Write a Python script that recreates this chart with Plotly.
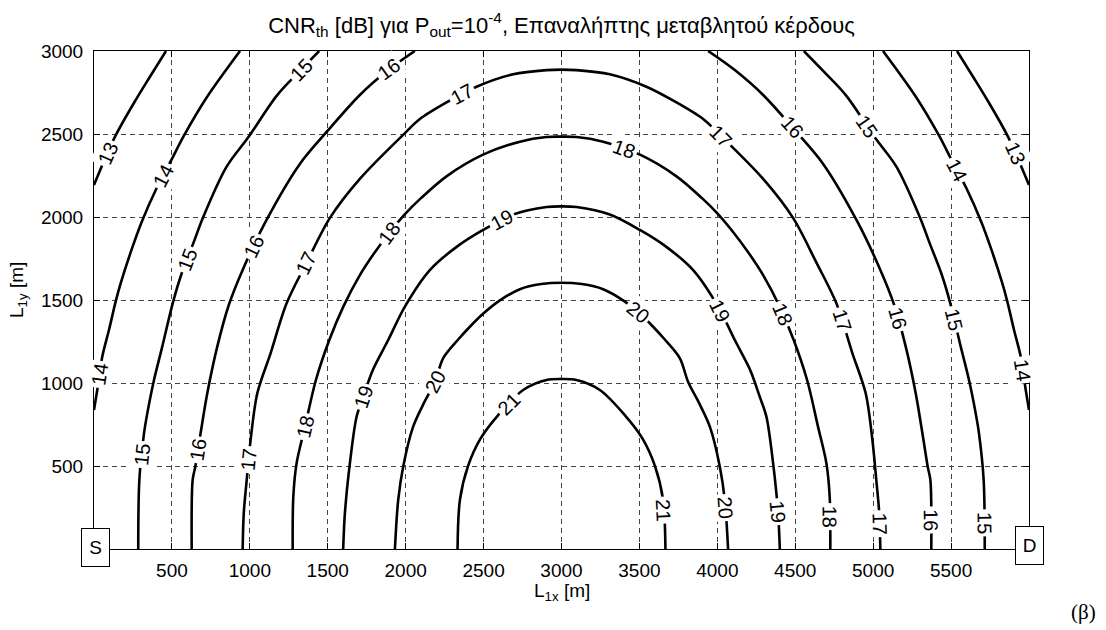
import math
import plotly.graph_objects as go

X_MAX, Y_MAX = 6000, 3000

# Contour levels (dB)
levels = [13, 14, 15, 16, 17, 18, 19, 20, 21]

# Left half (x <= 3000) of every contour line.
# The field is symmetric about x = 3000, the right half is its mirror image.
c13_x = [0, 135, 274, 359, 462]
c13_y = [2193, 2484, 2715, 2845, 3000]
c14_x = [0, 21, 53, 96, 139, 171, 240, 306, 400, 500, 577, 723, 937]
c14_y = [837, 958, 1158, 1319, 1490, 1600, 1800, 1970, 2170, 2350, 2490, 2720, 3000]
c15_x = [284, 291, 321, 342, 385, 438, 505, 563, 637, 701, 851, 990, 1172, 1321, 1445]
c15_y = [0, 416, 697, 817, 1018, 1219, 1480, 1661, 1841, 2000, 2303, 2480, 2730, 2880, 3000]
c16_x = [627, 633, 650, 684, 727, 791, 865, 958, 1103, 1321, 1500, 1706, 1888, 2059]
c16_y = [0, 416, 496, 697, 938, 1219, 1470, 1690, 1975, 2320, 2520, 2735, 2885, 3000]
c17_x = [954, 961, 980, 1005, 1048, 1133, 1236, 1364, 1514, 1706, 2000, 2091, 2262, 2455, 2690, 2904, 3000]
c17_y = [0, 215, 416, 657, 938, 1179, 1480, 1725, 1995, 2230, 2510, 2590, 2690, 2785, 2860, 2885, 2888]
c18_x = [1275, 1279, 1300, 1354, 1424, 1510, 1600, 1706, 1800, 1899, 2000, 2100, 2262, 2493, 2733, 2904, 3000]
c18_y = [0, 315, 516, 737, 1018, 1259, 1460, 1650, 1785, 1910, 2022, 2115, 2245, 2374, 2454, 2482, 2484]
c19_x = [1599, 1610, 1642, 1685, 1728, 1790, 1888, 1995, 2155, 2327, 2497, 2690, 2904, 3000]
c19_y = [0, 215, 516, 797, 918, 1080, 1259, 1460, 1680, 1820, 1922, 2015, 2060, 2064]
c20_x = [1931, 1952, 1984, 2048, 2112, 2188, 2241, 2340, 2412, 2500, 2600, 2733, 2870, 3000]
c20_y = [0, 295, 496, 737, 870, 1008, 1150, 1265, 1339, 1420, 1495, 1565, 1596, 1604]
c21_x = [2333, 2348, 2401, 2480, 2594, 2754, 2904, 3000]
c21_y = [0, 295, 502, 665, 807, 958, 1018, 1024]

half_curves = {
    13: (c13_x, c13_y), 14: (c14_x, c14_y), 15: (c15_x, c15_y),
    16: (c16_x, c16_y), 17: (c17_x, c17_y), 18: (c18_x, c18_y),
    19: (c19_x, c19_y), 20: (c20_x, c20_y), 21: (c21_x, c21_y),
}

# Inline contour labels: level and approximate position
lab_level = [13, 14, 14, 15, 16, 17, 18, 19, 20, 21, 15, 16, 17, 18, 15, 16, 17, 19,
             17, 16, 15, 14, 13, 18, 20, 19, 18, 17, 16, 15, 14, 21, 20, 19, 18, 17, 16, 15]
lab_x = [81, 434, 43, 332, 674, 994, 1354, 1728, 2188, 2669, 605, 1022, 1364, 1899, 1321, 1888, 2359, 2615,
         4016, 4486, 4946, 5534, 5887, 3396, 3492, 3984, 4401, 4807, 5149, 5512, 5940, 3620, 4016, 4390, 4700, 5042, 5363, 5705]
lab_y = [2384, 2253, 1048, 566, 596, 536, 737, 918, 1008, 867, 1741, 1821, 1721, 1902, 2896, 2896, 2745, 1982,
         2484, 2544, 2534, 2283, 2374, 2394, 1430, 1420, 1410, 1380, 1390, 1380, 1078, 235, 245, 225, 195, 155, 175, 155]

x_ticks = [500, 1000, 1500, 2000, 2500, 3000, 3500, 4000, 4500, 5000, 5500]
y_ticks = [500, 1000, 1500, 2000, 2500, 3000]

# ---- geometry of the figure ----
W, H = 1106, 630
PL, PR, PT, PB = 94, 1029, 51, 549
sx = (PR - PL) / X_MAX
sy = (PB - PT) / Y_MAX
FONT = "Liberation Sans, Arial, Helvetica, sans-serif"


def pieces(lv):
    xs, ys = half_curves[lv]
    mx = [X_MAX - x for x in reversed(xs)]
    my = list(reversed(ys))
    if ys[-1] >= Y_MAX:  # leaves through the top edge: two separate branches
        return [(list(xs), list(ys)), (mx, my)]
    if xs[-1] == X_MAX / 2:
        mx, my = mx[1:], my[1:]
    return [(list(xs) + mx, list(ys) + my)]


fig = go.Figure()
for lv in levels:
    for xs, ys in pieces(lv):
        fig.add_trace(go.Scatter(
            x=xs, y=ys, mode="lines",
            line=dict(color="black", width=2.6, shape="spline", smoothing=0.9),
            hoverinfo="skip", showlegend=False))


def snap(lv, x, y):
    best = None
    px, py = x * sx, y * sy
    for xs, ys in pieces(lv):
        for i in range(len(xs) - 1):
            ax, ay = xs[i] * sx, ys[i] * sy
            bx, by = xs[i + 1] * sx, ys[i + 1] * sy
            dx, dy = bx - ax, by - ay
            L2 = dx * dx + dy * dy
            if L2 == 0:
                continue
            t = max(0.0, min(1.0, ((px - ax) * dx + (py - ay) * dy) / L2))
            qx, qy = ax + t * dx, ay + t * dy
            d = (px - qx) ** 2 + (py - qy) ** 2
            if best is None or d < best[0]:
                best = (d, qx / sx, qy / sy, dx, dy)
    _, qx, qy, dx, dy = best
    ang = -math.degrees(math.atan2(dy, dx))
    while ang > 90:
        ang -= 180
    while ang <= -90:
        ang += 180
    return qx, qy, ang


annotations = []
for lv, x, y in zip(lab_level, lab_x, lab_y):
    qx, qy, ang = snap(lv, x, y)
    annotations.append(dict(
        x=qx, y=qy, xref="x", yref="y", text=str(lv), showarrow=False,
        textangle=ang, font=dict(family=FONT, size=20, color="black"),
        bgcolor="white", borderpad=2, xanchor="center", yanchor="middle"))

# S and D boxes
for xv, txt, xs_, ys_ in [(0, "S", 1, 2), (X_MAX, "D", 0, 4)]:
    annotations.append(dict(
        x=xv, y=0, xref="x", yref="y", text=txt, showarrow=False,
        font=dict(family=FONT, size=19, color="black"),
        bgcolor="white", bordercolor="black", borderwidth=1, borderpad=0,
        width=27, height=37, xanchor="center", yanchor="middle",
        xshift=xs_, yshift=ys_))

# axis titles
annotations.append(dict(
    x=0.5, y=(PB - 592) / (PB - PT), xref="paper", yref="paper",
    text="L<sub>1x</sub> [m]", showarrow=False,
    font=dict(family=FONT, size=19, color="black"),
    xanchor="center", yanchor="middle"))
annotations.append(dict(
    x=(18 - PL) / (PR - PL), y=(PB - 290) / (PB - PT), xref="paper", yref="paper",
    text="L<sub>1y</sub> [m]", showarrow=False, textangle=-90,
    font=dict(family=FONT, size=19, color="black"),
    xanchor="center", yanchor="middle"))
# (β)
annotations.append(dict(
    x=(1083 - PL) / (PR - PL), y=(PB - 612) / (PB - PT), xref="paper", yref="paper",
    text="(β)", showarrow=False,
    font=dict(family="Liberation Serif, Times New Roman, serif", size=21, color="black"),
    xanchor="center", yanchor="middle"))

axis_common = dict(
    showline=True, linecolor="black", linewidth=1, mirror="ticks",
    ticks="inside", ticklen=6, tickcolor="black", tickwidth=1,
    showgrid=True, gridcolor="#444444", gridwidth=1, griddash="5px,4px",
    zeroline=False, tickfont=dict(family=FONT, size=19, color="black"),
)

fig.update_layout(
    width=W, height=H,
    margin=dict(l=PL, r=W - PR, t=PT, b=H - PB),
    paper_bgcolor="white", plot_bgcolor="white",
    showlegend=False,
    font=dict(family=FONT, size=19, color="black"),
    title=dict(
        text="CNR<sub>th</sub> [dB] για P<sub>out</sub>=10<sup>-4</sup>, Επαναλήπτης μεταβλητού κέρδους",
        x=(PL + PR) / 2 / W, xanchor="center", y=1 - 25 / H, yanchor="middle",
        font=dict(family=FONT, size=22, color="black")),
    xaxis=dict(range=[0, X_MAX], tickvals=x_ticks, ticklabelstandoff=4, **axis_common),
    yaxis=dict(range=[0, Y_MAX], tickvals=y_ticks, ticklabelstandoff=6, **axis_common),
    annotations=annotations,
)

fig.write_html("out.html")
